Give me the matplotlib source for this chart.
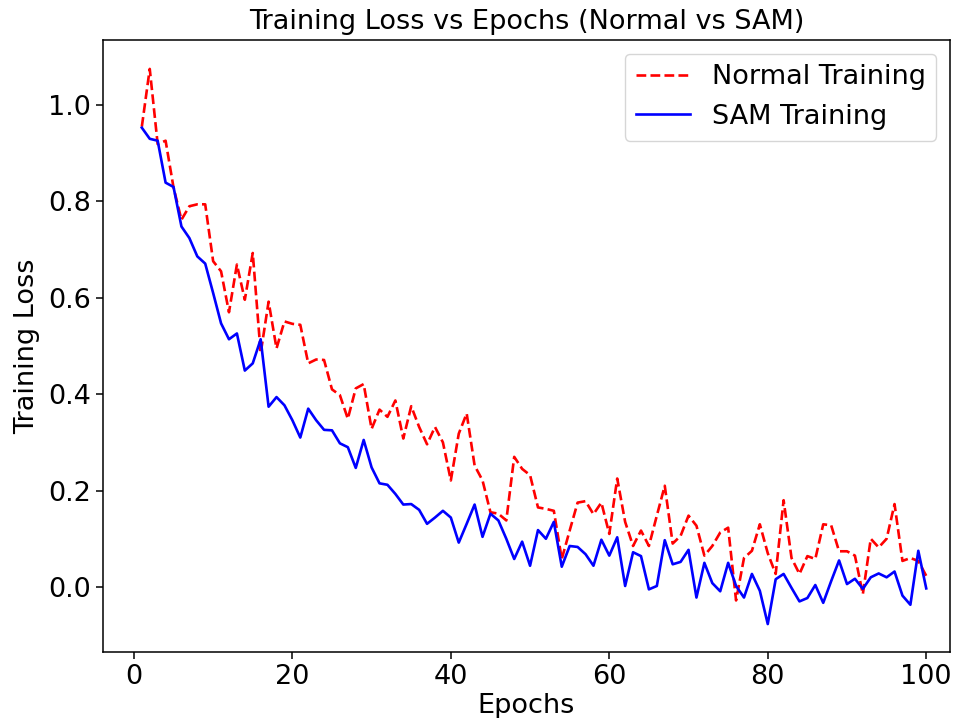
import matplotlib
matplotlib.use("Agg")
import matplotlib.pyplot as plt
import numpy as np

# Loss values, epochs 1..100
epochs = np.arange(1, 101)

normal_loss = [
    0.955, 1.075, 0.919, 0.926, 0.829, 0.762, 0.790, 0.794, 0.794, 0.676,
    0.655, 0.570, 0.669, 0.596, 0.693, 0.485, 0.592, 0.495, 0.551, 0.546,
    0.544, 0.464, 0.472, 0.471, 0.410, 0.398, 0.349, 0.412, 0.421, 0.328,
    0.368, 0.353, 0.387, 0.308, 0.375, 0.332, 0.296, 0.332, 0.300, 0.221,
    0.318, 0.360, 0.252, 0.221, 0.155, 0.152, 0.138, 0.270, 0.245, 0.232,
    0.165, 0.162, 0.158, 0.058, 0.117, 0.175, 0.178, 0.151, 0.175, 0.110,
    0.225, 0.135, 0.085, 0.117, 0.085, 0.148, 0.210, 0.090, 0.106, 0.148,
    0.127, 0.065, 0.085, 0.113, 0.123, -0.028, 0.060, 0.075, 0.130, 0.070,
    0.027, 0.180, 0.060, 0.027, 0.064, 0.058, 0.130, 0.128, 0.074, 0.074,
    0.065, -0.015, 0.100, 0.082, 0.100, 0.172, 0.054, 0.060, 0.054, 0.023,
]

sam_loss = [
    0.953, 0.930, 0.926, 0.839, 0.830, 0.748, 0.724, 0.686, 0.671, 0.610,
    0.547, 0.514, 0.526, 0.449, 0.464, 0.514, 0.374, 0.394, 0.377, 0.346,
    0.310, 0.370, 0.346, 0.326, 0.325, 0.298, 0.290, 0.247, 0.305, 0.248,
    0.215, 0.212, 0.193, 0.171, 0.172, 0.160, 0.131, 0.144, 0.158, 0.144,
    0.092, 0.131, 0.171, 0.104, 0.152, 0.138, 0.100, 0.058, 0.094, 0.044,
    0.118, 0.100, 0.135, 0.042, 0.085, 0.083, 0.068, 0.044, 0.098, 0.065,
    0.103, 0.002, 0.072, 0.064, -0.005, 0.002, 0.097, 0.047, 0.052, 0.077,
    -0.022, 0.050, 0.008, -0.009, 0.050, 0.002, -0.022, 0.027, -0.008, -0.077,
    0.016, 0.027, -0.002, -0.030, -0.023, 0.004, -0.033, 0.012, 0.055, 0.006,
    0.017, -0.004, 0.020, 0.028, 0.020, 0.032, -0.018, -0.037, 0.075, -0.003,
]

fs = 19.5  # the reference looks like 14pt text rendered at ~140 dpi

fig = plt.figure(figsize=(9.55, 7.18), dpi=100)
ax = fig.add_axes([103 / 955, (718 - 652) / 718, 847 / 955, 612 / 718])

ax.plot(epochs, normal_loss, color='red', linestyle='--', linewidth=1.9,
        label='Normal Training')
ax.plot(epochs, sam_loss, color='blue', linestyle='-', linewidth=1.9,
        label='SAM Training')

ax.set_title('Training Loss vs Epochs (Normal vs SAM)', fontsize=fs, pad=8)
ax.set_xlabel('Epochs', fontsize=fs, labelpad=2)
ax.set_ylabel('Training Loss', fontsize=fs, labelpad=6)
ax.tick_params(labelsize=fs, length=5, width=1.1)
for spine in ax.spines.values():
    spine.set_linewidth(1.1)
ax.set_xlim(-3.9, 103.0)
ax.set_ylim(-0.135, 1.135)
ax.set_yticks([0.0, 0.2, 0.4, 0.6, 0.8, 1.0])
ax.legend(loc='upper right', fontsize=fs)

fig.savefig('out.png', dpi=100)
